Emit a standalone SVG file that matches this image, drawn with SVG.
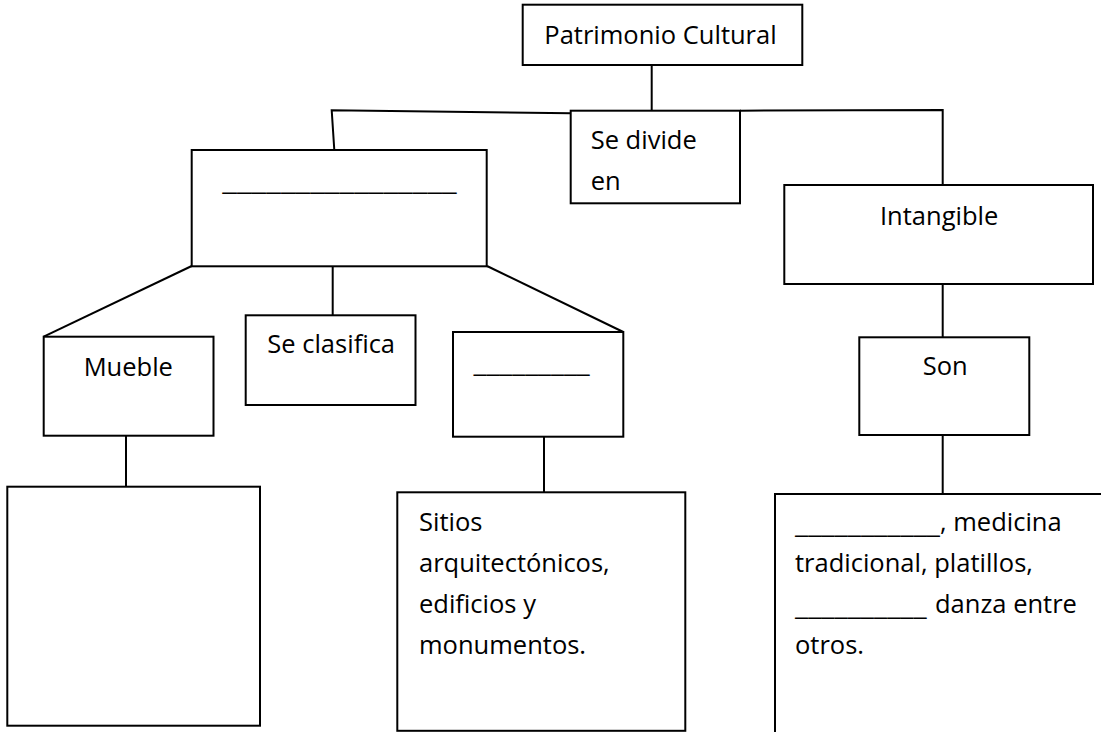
<svg xmlns="http://www.w3.org/2000/svg" width="1101" height="732" viewBox="0 0 1101 732">
<style>
.box{fill:#fff;stroke:#000;stroke-width:2}
.ln{fill:none;stroke:#000;stroke-width:2}
.t{font-family:"Open Sans","Liberation Sans",sans-serif;font-size:25.5px;fill:#000}
</style>
<rect width="1101" height="732" fill="#fff"/>
<g id="connectors">
<path class="ln" d="M651.7,65 V110.7"/>
<path class="ln" d="M570.7,113.3 L331.7,110.3 L334.3,150"/>
<path class="ln" d="M740,110.7 L942.7,110 V185"/>
<path class="ln" d="M191.7,266 L43.7,336.7"/>
<path class="ln" d="M332.7,266 V315.3"/>
<path class="ln" d="M487,266 L623.3,332"/>
<path class="ln" d="M126,435.7 V486.7"/>
<path class="ln" d="M544,436.7 V492.3"/>
<path class="ln" d="M942.7,284 V337.3"/>
<path class="ln" d="M942.7,435 V494"/>
</g>
<g id="patrimonio">
<rect class="box" x="522.7" y="4.7" width="279.6" height="60.3"/>
<text class="t" x="544.3" y="44.3">Patrimonio Cultural</text>
</g>
<g id="sedivide">
<rect class="box" x="570.7" y="110.7" width="169.3" height="92.6"/>
<text class="t" x="590.7" y="149.3">Se divide</text>
<text class="t" x="590.7" y="190">en</text>
</g>
<g id="blank1">
<rect class="box" x="191.7" y="150" width="295" height="116.3"/>
<text class="t" x="222.3" y="189.5" textLength="234.4" lengthAdjust="spacingAndGlyphs">________________</text>
</g>
<g id="intangible">
<rect class="box" x="784.3" y="185" width="308.7" height="99"/>
<text class="t" x="880" y="225">Intangible</text>
</g>
<g id="mueble">
<rect class="box" x="43.7" y="336.7" width="169.8" height="99"/>
<text class="t" x="83.7" y="376">Mueble</text>
</g>
<g id="seclasifica">
<rect class="box" x="245.7" y="315.3" width="169.8" height="89.7"/>
<text class="t" x="267.3" y="353.3">Se clasifica</text>
</g>
<g id="blank2">
<rect class="box" x="453" y="332" width="170.3" height="104.7"/>
<text class="t" x="473.5" y="372" textLength="116.3" lengthAdjust="spacingAndGlyphs">_________</text>
</g>
<g id="son">
<rect class="box" x="859.3" y="337.3" width="170" height="97.7"/>
<text class="t" x="922.7" y="375">Son</text>
</g>
<g id="mueblebox">
<rect class="box" x="7.3" y="486.7" width="252.7" height="239"/>
</g>
<g id="sitios">
<rect class="box" x="397.3" y="492.3" width="288" height="238.5"/>
<text class="t" x="419" y="531">Sitios</text>
<text class="t" x="419" y="572">arquitectónicos,</text>
<text class="t" x="419" y="613">edificios y</text>
<text class="t" x="419" y="654">monumentos.</text>
</g>
<g id="intangiblebox">
<rect class="box" x="775" y="494" width="400" height="300"/>
<text class="t" x="795" y="533" textLength="145" lengthAdjust="spacingAndGlyphs">___________</text>
<text class="t" x="940" y="531">, medicina</text>
<text class="t" x="795" y="572">tradicional, platillos,</text>
<text class="t" x="795" y="615" textLength="131.7" lengthAdjust="spacingAndGlyphs">__________</text>
<text class="t" x="935" y="613">danza entre</text>
<text class="t" x="795" y="654">otros.</text>
</g>
</svg>
